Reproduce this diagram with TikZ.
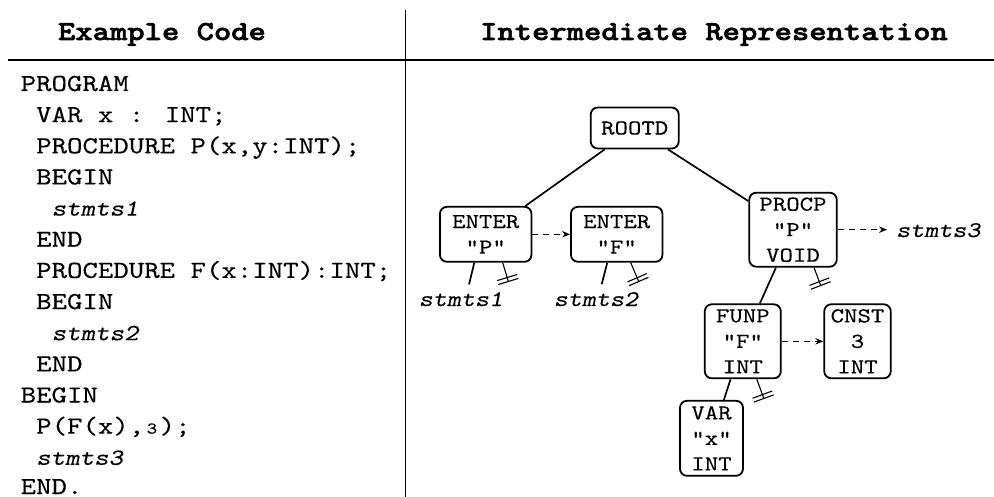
\documentclass[tikz,border=0pt]{standalone}
\usepackage{fontspec}
\setmainfont{Liberation Serif}
% typewriter face, widened to a Courier-like advance
\newfontfamily\cour[FakeStretch=1.2, FakeBold=0.2,
  ItalicFont=lmmonoslant10-regular.otf,
  BoldFont=lmmonolt10-bold.otf,
  BoldFeatures={FakeBold=2.2}]{lmmono10-regular.otf}
\usetikzlibrary{arrows.meta,calc}

\tikzset{
  codeline/.style={anchor=base west, inner sep=0pt, font=\cour\fontsize{24.5}{31}\selectfont},
  codeslant/.style={anchor=base west, inner sep=0pt, font=\cour\itshape\fontsize{23}{31}\selectfont},
  heading/.style={anchor=base, inner sep=0pt, font=\cour\bfseries\fontsize{27.5}{32}\selectfont},
  irnode/.style={draw, line width=1.8pt, rounded corners=7pt, align=center, inner sep=0pt,
                 font=\cour\fontsize{21.3}{25.5}\selectfont},
  leaf/.style={inner sep=0pt, anchor=base, font=\cour\itshape\fontsize{22.3}{25}\selectfont},
  edge/.style={line width=1.7pt},
  link/.style={line width=1.1pt, dash pattern=on 6pt off 5pt, -{Stealth[length=8pt,width=6.5pt]}},
  nil/.style={line width=1.1pt,
              -{Bar[width=21pt,line width=1.1pt,sep=3pt]Bar[width=21pt,line width=1.1pt]}},
  rule/.style={line width=1.8pt}
}

\begin{document}
\begin{tikzpicture}[x=1pt,y=-1pt]
\useasboundingbox (0,0) rectangle (994,497);

% table frame
\draw[rule] (8,60) -- (994,60);
\draw[rule] (405.5,10) -- (405.5,497);

% column headings
\node[heading] (h1) at (162,40) {Example Code};
\node[heading] (h2) at (714,40) {Intermediate Representation};

% source program
\def\xa{20.5}
\def\xb{36}
\def\xc{51.5}
\node[codeline] (l1) at (\xa,91) {PROGRAM};
\node[codeline] (l2) at (\xb,122.15) {VAR x : INT;};
\node[codeline] (l3) at (\xb,153.3) {PROCEDURE P(x,y:INT);};
\node[codeline] (l4) at (\xb,184.45) {BEGIN};
\node[codeslant] (l5) at (\xc,215.6) {stmts1};
\node[codeline] (l6) at (\xb,246.75) {END};
\node[codeline] (l7) at (\xb,277.9) {PROCEDURE F(x:INT):INT;};
\node[codeline] (l8) at (\xb,309.05) {BEGIN};
\node[codeslant] (l9) at (\xc,340.2) {stmts2};
\node[codeline] (l10) at (\xb,371.35) {END};
\node[codeline] (l11) at (\xa,402.5) {BEGIN};
\node[codeline] (l12) at (\xb,433.65) {P(F(x),\makebox[15.48pt]{\fontsize{16.5}{17}\selectfont 3});};
\node[codeslant] (l13) at (\xb,464.8) {stmts3};
\node[codeline] (l14) at (\xa,494) {END.};

% intermediate representation tree
\node[irnode, minimum width=88pt, minimum height=41pt] (rootd) at (634.7,128) {ROOTD};
\node[irnode, minimum width=91.5pt, minimum height=55pt] (enterP) at (485.7,234.3) {ENTER\\"P"};
\node[irnode, minimum width=91.5pt, minimum height=55pt] (enterF) at (616.7,234.3) {ENTER\\"F"};
\node[irnode, minimum width=87.5pt, minimum height=74pt] (procp) at (793,229.7) {PROCP\\"P"\\VOID};
\node[irnode, minimum width=76pt, minimum height=74pt] (funp) at (742.8,341.3) {FUNP\\"F"\\INT};
\node[irnode, minimum width=66.5pt, minimum height=74pt] (cnst) at (857.5,341.3) {CNST\\3\\INT};
\node[irnode, minimum width=63pt, minimum height=75pt] (varx) at (711.5,438.3) {VAR\\"x"\\INT};

\node[leaf] (st1) at (461,306) {stmts1};
\node[leaf] (st2) at (596,306) {stmts2};
\node[leaf, anchor=base west] (st3) at (896,237) {stmts3};

% tree edges
\draw[edge] (rootd) -- (enterP);
\draw[edge] (rootd) -- (procp);
\draw[edge] (procp) -- (funp);
\draw[edge] (funp) -- (varx);

% statement lists hanging below the ENTER nodes
\draw[edge] ($(enterP.south)+(-11.4,0)$) -- ($(st1.north)+(8,-7.5)$);
\draw[edge] ($(enterF.south)+(-9.4,0)$) -- ($(st2.north)+(5.7,-7.8)$);

% empty child links
\coordinate (nilP) at (508.5,282);
\coordinate (nilF) at (639,282);
\coordinate (nilProc) at (821,286);
\coordinate (nilFun) at (764,399);
\draw[nil] ($(enterP.south)+(17,0)$) -- (nilP);
\draw[nil] ($(enterF.south)+(14,0)$) -- (nilF);
\draw[nil] ($(procp.south)+(21,0)$) -- (nilProc);
\draw[nil] ($(funp.south)+(14,0)$) -- (nilFun);

% sibling links
\draw[link] (enterP) -- (enterF);
\draw[link] (funp) -- (cnst);
\draw[link, shorten >=9pt] (procp) -- (st3.west |- procp.center);
\end{tikzpicture}
\end{document}
